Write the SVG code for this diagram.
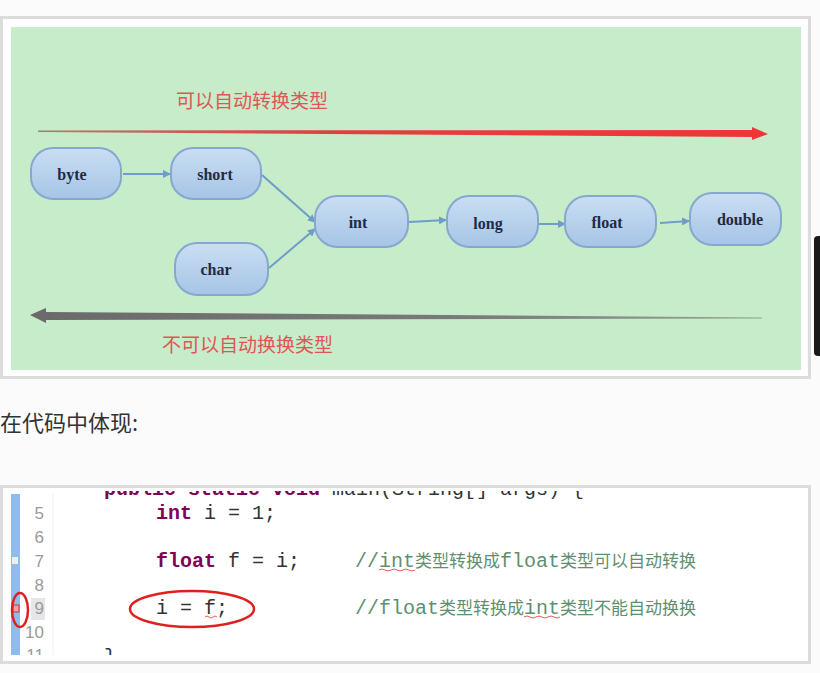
<svg xmlns="http://www.w3.org/2000/svg" width="820" height="673" viewBox="0 0 820 673">
<defs>
<style>
.node rect{fill:url(#ng);stroke:#86a8cf;stroke-width:2}
.node text{font-family:"Liberation Serif",serif;font-weight:bold;font-size:16px;fill:#1e2b44;text-anchor:middle}
.edge{stroke:#6f9cc8;stroke-width:2;fill:none;marker-end:url(#ah)}
.cn{font-family:"Noto Sans CJK SC","Noto Sans",sans-serif;font-size:19px;fill:#e05555}
.ln{font-family:"Liberation Sans",sans-serif;font-size:17px;fill:#9a9a9a;text-anchor:end}
.code{font-family:"Liberation Mono",monospace;font-size:20px;fill:#333}
.kw{font-weight:bold;fill:#7f0055}
.cm{fill:#5f8f6f}
.cmc{font-family:"Noto Sans CJK SC",sans-serif;font-size:17px}
</style>
<linearGradient id="ng" x1="0" y1="0" x2="0" y2="1"><stop offset="0" stop-color="#cadef3"/><stop offset="1" stop-color="#a6c4e6"/></linearGradient>
<linearGradient id="rg" x1="0" y1="0" x2="1" y2="0"><stop offset="0" stop-color="#b07a6a"/><stop offset="0.4" stop-color="#e04040"/><stop offset="1" stop-color="#f03535"/></linearGradient>
<linearGradient id="gg" x1="0" y1="0" x2="1" y2="0"><stop offset="0" stop-color="#6a6a6a"/><stop offset="0.6" stop-color="#7a7a7a"/><stop offset="1" stop-color="#93a393"/></linearGradient>
<marker id="ah" markerWidth="8" markerHeight="8" refX="7" refY="4" orient="auto" markerUnits="userSpaceOnUse"><path d="M0,0 L8,4 L0,8 Z" fill="#6f9cc8"/></marker>
<clipPath id="cc"><rect x="5" y="491" width="800" height="164"/></clipPath>
</defs>
<rect width="820" height="673" fill="#fbfbfb"/>
<rect x="1.5" y="17.5" width="808" height="360" fill="#ffffff" stroke="#dcdcdc" stroke-width="3"/>
<rect x="11" y="27" width="790" height="343" fill="#c6ecca"/>
<rect x="814" y="236" width="10" height="120" rx="4" fill="#1a1a1a"/>
<text class="cn" x="176" y="108">可以自动转换类型</text>
<polygon points="38,130.5 752,130 752,127 768,134 752,140 752,137 38,132" fill="url(#rg)"/>
<polygon points="30,315 46,308 46,312 762,317.5 762,318.5 46,320 46,323" fill="url(#gg)"/>
<text class="cn" x="162" y="352">不可以自动换换类型</text>
<g id="connectors">
<line class="edge" x1="123" y1="174" x2="170" y2="174"/>
<line class="edge" x1="262" y1="175" x2="315" y2="222"/>
<line class="edge" x1="269" y1="268" x2="315" y2="229"/>
<line class="edge" x1="409" y1="222" x2="446" y2="220"/>
<line class="edge" x1="539" y1="224" x2="565" y2="224"/>
<line class="edge" x1="660" y1="223" x2="689" y2="221"/>
</g>
<g id="node-byte" class="node"><rect x="31" y="148" width="90" height="51" rx="22"/><text x="72" y="180">byte</text></g>
<g id="node-short" class="node"><rect x="171" y="148" width="90" height="51" rx="22"/><text x="215" y="180">short</text></g>
<g id="node-int" class="node"><rect x="315" y="196" width="93" height="51" rx="22"/><text x="358" y="228">int</text></g>
<g id="node-char" class="node"><rect x="175" y="243" width="93" height="52" rx="22"/><text x="216" y="275">char</text></g>
<g id="node-long" class="node"><rect x="447" y="196" width="91" height="51" rx="22"/><text x="488" y="229">long</text></g>
<g id="node-float" class="node"><rect x="565" y="196" width="91" height="51" rx="22"/><text x="607" y="228">float</text></g>
<g id="node-double" class="node"><rect x="690" y="193" width="91" height="52" rx="22"/><text x="740" y="225">double</text></g>
<text x="0" y="431" font-family="'Noto Sans CJK SC','Noto Sans',sans-serif" font-size="22" fill="#333">在代码中体现:</text>
<rect x="1.5" y="486.5" width="808" height="176" fill="#ffffff" stroke="#dcdcdc" stroke-width="3"/>
<rect x="11" y="494" width="9" height="161" fill="#8fbcea"/>
<line x1="53" y1="494" x2="53" y2="655" stroke="#f0f0f0" stroke-width="1"/>
<rect x="31" y="598" width="14" height="22" fill="#e4e6ea"/>
<rect x="12" y="557" width="6" height="7" fill="#e8f0f8"/>
<rect x="13" y="605" width="6" height="7" fill="#f4a0a0" stroke="#d03030" stroke-width="1"/>
<g clip-path="url(#cc)">
<text class="code" x="104" y="495"><tspan class="kw">public static void</tspan> main(String[] args) {</text>
<text class="ln" x="44" y="661">11</text>
<text class="code" x="104" y="663">}</text>
</g>
<text class="ln" x="44" y="519">5</text>
<text class="ln" x="44" y="543">6</text>
<text class="ln" x="44" y="567">7</text>
<text class="ln" x="44" y="591">8</text>
<text class="ln" x="44" y="614">9</text>
<text class="ln" x="44" y="638">10</text>
<text class="code" x="156" y="519"><tspan class="kw">int</tspan> i = 1;</text>
<text class="code" x="156" y="567"><tspan class="kw">float</tspan> f = i;</text>
<text class="code" x="156" y="614">i = f;</text>
<text class="code cm" x="355" y="567">//int<tspan class="cmc">类型转换成</tspan>float<tspan class="cmc">类型可以自动转换</tspan></text>
<text class="code cm" x="355" y="614">//float<tspan class="cmc">类型转换成</tspan>int<tspan class="cmc">类型不能自动换换</tspan></text>
<path d="M379,570 q3,-2 6,0 t6,0 t6,0 t6,0 t6,0 t6,0" stroke="#e06060" stroke-width="1" fill="none"/>
<path d="M524,617 q3,-2 6,0 t6,0 t6,0 t6,0 t6,0 t6,0" stroke="#e06060" stroke-width="1" fill="none"/>
<path d="M205,617 q2,-2 4,0 t4,0 t4,0" stroke="#e06060" stroke-width="1" fill="none"/>
<ellipse cx="192" cy="609" rx="62" ry="18" fill="none" stroke="#e02020" stroke-width="2.5"/>
<ellipse cx="20" cy="610" rx="8" ry="17" fill="none" stroke="#e02020" stroke-width="2.5"/>
</svg>
